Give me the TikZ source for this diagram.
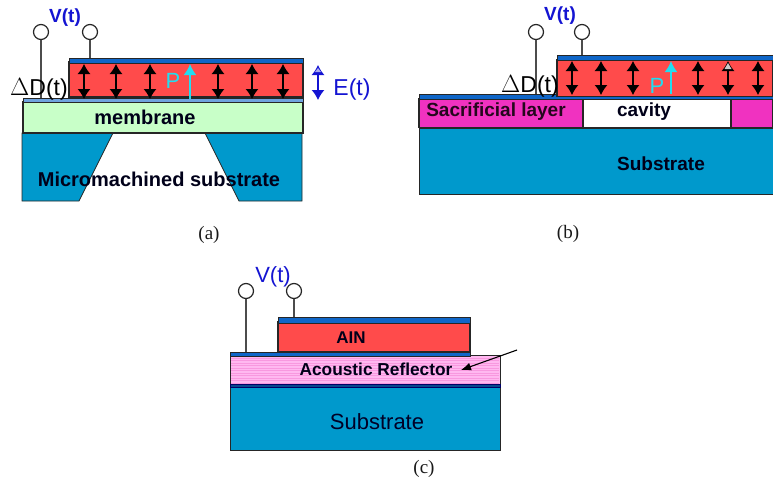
\documentclass[tikz,border=0pt]{standalone}
\usepackage{fontspec}
\usepackage{xcolor}
\setmainfont{Liberation Serif}
\setsansfont{Liberation Sans}
\usetikzlibrary{positioning,arrows.meta}
\definecolor{PiezoRed}{HTML}{FF4B4B}
\definecolor{SubBlue}{HTML}{0099CC}
\definecolor{ElecBlue}{HTML}{0F66C8}
\definecolor{MemGreen}{HTML}{C8FFC8}
\definecolor{SacPink}{HTML}{F032C0}
\definecolor{RefPink}{HTML}{FFB8F0}
\definecolor{LabelBlue}{HTML}{1414D2}
\definecolor{PolCyan}{HTML}{22DDF0}

\begin{document}
\begin{tikzpicture}[x=1pt, y=-1pt,
        layer/.style={rectangle, draw=black!85, line width=1.2pt, inner sep=0pt, outer sep=0pt},
        piezo/.style={layer, fill=PiezoRed},
        elec/.style={layer, fill=ElecBlue, line width=0.7pt},
        sub/.style={layer, fill=SubBlue, line width=0.8pt},
        term/.style={circle, draw=black!85, fill=white, line width=1.2pt, inner sep=0pt, minimum size=15pt},
        wire/.style={draw=black!70, line width=1.2pt},
        dbl/.style={draw=black, line width=1.2pt, {Latex[length=10pt,width=13pt]}-{Latex[length=10pt,width=13pt]}},
        pol/.style={draw=PolCyan, line width=1.8pt, -{Latex[length=11pt,width=13pt]}},
        txtb/.style={font=\sffamily\bfseries\fontsize{19}{21}\selectfont, inner sep=0pt, text=black!90!blue},
        txtr/.style={font=\sffamily\fontsize{22}{24}\selectfont, inner sep=0pt},
        subcap/.style={font=\rmfamily\fontsize{19}{21}\selectfont, inner sep=0pt, text=black!90}
    ]
        \useasboundingbox (0,0) rectangle (773,482);

        % (a) membrane
        \draw [sub] (22,133) -- (113,133) -- (79,201) -- (22,201) -- cycle;
        \draw [sub] (205,133) -- (302,133) -- (302,201) -- (239,201) -- cycle;
        \node [layer, fill=MemGreen, minimum width=280pt, minimum height=31pt] (a_mem) at (163,117.5) {};
        \node [elec, fill=ElecBlue!60, minimum width=280pt, minimum height=4pt] (a_bot) at (163,100) {};
        \node [piezo, minimum width=234pt, minimum height=35pt] (a_pzt) at (186,79.5) {};
        \node [elec, minimum width=234pt, minimum height=5pt] (a_top) at (186,60.5) {};
        \node [term] (a_t1) at (41,32) {};
        \node [term] (a_t2) at (90,32) {};
        \draw [wire] (a_t1) -- (a_t1 |- a_bot.north);
        \draw [wire] (a_t2) -- (a_t2 |- a_top.north);
        \foreach \x [count=\n] in {84,116,150,218,252,283} {
            \coordinate (a_up\n) at (\x,64);
            \coordinate (a_dn\n) at (\x,99);
            \draw [dbl] (a_up\n) -- (a_dn\n);
        }
        \coordinate (a_pa) at (190,99);
        \coordinate (a_pb) at (190,64);
        \draw [pol] (a_pa) -- (a_pb);
        \coordinate (a_ea) at (318,65);
        \coordinate (a_eb) at (318,100);
        \draw [dbl, draw=LabelBlue] (a_ea) -- (a_eb);
        \fill [LabelBlue!35] (318,68) -- (321,72) -- (315,72) -- cycle;
        \node [txtb, text=LabelBlue] (a_v) at (65,18) {V(t)};
        \node [txtr, font=\sffamily\fontsize{23}{25}\selectfont] (a_dd) at (39,89) {$\Delta$D(t)};
        \node [txtr, text=PolCyan] (a_p) at (173,81) {P};
        \node [txtr, font=\sffamily\fontsize{23}{25}\selectfont, text=LabelBlue] (a_e) at (352,90) {E(t)};
        \node [txtb, font=\sffamily\bfseries\fontsize{20}{22}\selectfont] (a_memtxt) at (145,117) {membrane};
        \node [txtb, font=\sffamily\bfseries\fontsize{20}{22}\selectfont] (a_subtxt) at (159,179) {Micromachined substrate};
        \node [subcap] (a_cap) at (209,235) {(a)};

        % (b) sacrificial layer
        \node [sub, minimum width=354pt, minimum height=66pt] (b_sub) at (596,161) {};
        \node [layer, fill=SacPink, minimum width=164pt, minimum height=29pt] (b_sac1) at (501,113) {};
        \node [layer, fill=white, minimum width=148pt, minimum height=29pt] (b_cav) at (657,113) {};
        \node [layer, fill=SacPink, minimum width=42pt, minimum height=29pt] (b_sac2) at (752,113) {};
        \node [elec, minimum width=354pt, minimum height=5pt] (b_bot) at (596,96.5) {};
        \node [piezo, minimum width=216pt, minimum height=37pt] (b_pzt) at (665,78) {};
        \node [elec, minimum width=216pt, minimum height=5pt] (b_top) at (665,57.5) {};
        \node [term] (b_t1) at (536,32) {};
        \node [term] (b_t2) at (582,32) {};
        \draw [wire] (b_t1) -- (b_t1 |- b_bot.north);
        \draw [wire] (b_t2) -- (b_t2 |- b_top.north);
        \foreach \x [count=\n] in {572,601,633,698,728,758} {
            \coordinate (b_up\n) at (\x,61);
            \coordinate (b_dn\n) at (\x,95);
            \draw [dbl] (b_up\n) -- (b_dn\n);
        }
        \fill [white!80!black] (728,63) -- (731.5,69) -- (724.5,69) -- cycle;
        \coordinate (b_pa) at (671,94);
        \coordinate (b_pb) at (671,61);
        \draw [pol] (b_pa) -- (b_pb);
        \node [txtb, text=LabelBlue] (b_v) at (560,16) {V(t)};
        \node [txtr, font=\sffamily\fontsize{23}{25}\selectfont] (b_dd) at (530,86) {$\Delta$D(t)};
        \node [txtr, text=PolCyan] (b_p) at (657,86) {P};
        \node [txtb, text=black!85!SacPink] (b_sactxt) at (496,112) {Sacrificial layer};
        \node [txtb] (b_cavtxt) at (644,112) {cavity};
        \node [txtb] (b_subtxt) at (661,164) {Substrate};
        \node [subcap] (b_cap) at (568,234) {(b)};

        % (c) acoustic reflector
        \node [sub, minimum width=270pt, minimum height=65pt] (c_sub) at (365,417.5) {};
        \node [layer, fill=RefPink, minimum width=270pt, minimum height=30pt, line width=0.8pt] (c_ref) at (365,370) {};
        \foreach \y in {358,360.5,...,383} {
            \draw [draw=SacPink!50, line width=0.6pt] (231,\y) -- (499,\y);
        }
        \node [elec, draw=black!60!blue, fill=black!30!ElecBlue, minimum width=270pt, minimum height=3pt] (c_low) at (365,385.5) {};
        \node [elec, minimum width=240pt, minimum height=4pt] (c_bot) at (350,354) {};
        \node [piezo, minimum width=192pt, minimum height=30pt] (c_pzt) at (374,337) {};
        \node [elec, minimum width=192pt, minimum height=6pt] (c_top) at (374,320) {};
        \node [term] (c_t1) at (246,291) {};
        \node [term] (c_t2) at (294,291) {};
        \draw [wire] (c_t1) -- (c_t1 |- c_bot.north);
        \draw [wire] (c_t2) -- (c_t2 |- c_top.north);
        \node [txtr, text=LabelBlue] (c_v) at (273,277) {V(t)};
        \node [txtb, font=\sffamily\bfseries\fontsize{17}{19}\selectfont] (c_ain) at (351,338) {AIN};
        \node [txtb, font=\sffamily\bfseries\fontsize{17.3}{19}\selectfont] (c_reftxt) at (376,369) {Acoustic Reflector};
        \node [txtr, text=black!85!blue] (c_subtxt) at (377,422) {Substrate};
        \coordinate (c_from) at (517,350);
        \coordinate (c_to) at (461,370);
        \draw [draw=black, line width=1.1pt, -{Latex[length=10pt,width=8pt]}] (c_from) -- (c_to);
        \node [subcap] (c_cap) at (424,469) {(c)};
    \end{tikzpicture}
\end{document}
